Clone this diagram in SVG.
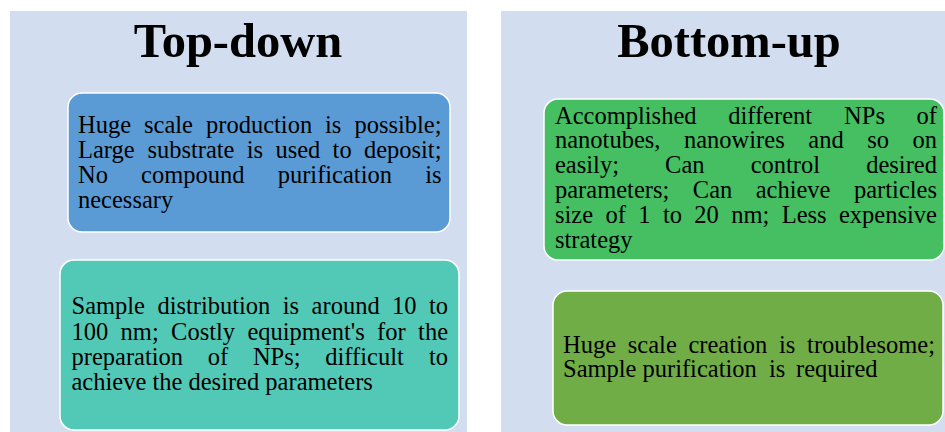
<svg xmlns="http://www.w3.org/2000/svg" width="945" height="432" viewBox="0 0 945 432">
  <style>
    .panel { fill: #D2DDEF; }
    .box { stroke: #FFFFFF; stroke-width: 1.5; }
    .title { font-family: "Liberation Serif", "Times New Roman", serif; font-weight: bold; font-size: 48.5px; fill: #000000; text-anchor: middle; }
    .body { font-family: "Liberation Serif", "Times New Roman", serif; font-size: 24.5px; fill: #000000; }
  </style>

  <rect width="945" height="432" fill="#FFFFFF"/>

  <!-- Top-down column; justified lines are set word by word -->
  <g id="top-down">
    <rect class="panel" x="10" y="11" width="457" height="425"/>
    <text class="title" x="238" y="57">Top-down</text>

    <g id="td-advantages">
      <rect class="box" x="68" y="93" width="382" height="139" rx="14" fill="#5B9BD5"/>
      <text class="body" y="133"><tspan x="78">Huge</tspan><tspan x="144">scale</tspan><tspan x="206">production</tspan><tspan x="325">is</tspan><tspan x="354.4">possible;</tspan></text>
      <text class="body" y="158"><tspan x="78">Large</tspan><tspan x="147.4">substrate</tspan><tspan x="246.8">is</tspan><tspan x="275.4">used</tspan><tspan x="332.6">to</tspan><tspan x="363.9">deposit;</tspan></text>
      <text class="body" y="183"><tspan x="78">No</tspan><tspan x="141.1">compound</tspan><tspan x="277.7">purification</tspan><tspan x="425.2">is</tspan></text>
      <text class="body" x="78" y="208">necessary</text>
    </g>

    <g id="td-disadvantages">
      <rect class="box" x="60" y="260" width="399" height="170" rx="14" fill="#52C9B7"/>
      <text class="body" y="314"><tspan x="71.5">Sample</tspan><tspan x="157.4">distribution</tspan><tspan x="282.8">is</tspan><tspan x="311.6">around</tspan><tspan x="392">10</tspan><tspan x="428.9">to</tspan></text>
      <text class="body" y="339.5"><tspan x="71.5">100</tspan><tspan x="120.6">nm;</tspan><tspan x="171.1">Costly</tspan><tspan x="247.4">equipment's</tspan><tspan x="377.1">for</tspan><tspan x="418.1">the</tspan></text>
      <text class="body" y="364.5"><tspan x="71.5">preparation</tspan><tspan x="207.8">of</tspan><tspan x="252.9">NPs;</tspan><tspan x="325.3">difficult</tspan><tspan x="428.9">to</tspan></text>
      <text class="body" x="71.5" y="389.5">achieve the desired parameters</text>
    </g>
  </g>

  <!-- Bottom-up column -->
  <g id="bottom-up">
    <rect class="panel" x="501" y="11" width="444" height="425"/>
    <text class="title" x="729" y="57">Bottom-up</text>

    <g id="bu-advantages">
      <rect class="box" x="544" y="99" width="400" height="161" rx="14" fill="#45BF62"/>
      <text class="body" y="123.5"><tspan x="555">Accomplished</tspan><tspan x="728.2">different</tspan><tspan x="844.1">NPs</tspan><tspan x="916.6">of</tspan></text>
      <text class="body" y="148.3"><tspan x="555">nanotubes,</tspan><tspan x="684">nanowires</tspan><tspan x="808.3">and</tspan><tspan x="867.2">so</tspan><tspan x="912.5">on</tspan></text>
      <text class="body" y="173.1"><tspan x="555">easily;</tspan><tspan x="665.1">Can</tspan><tspan x="750.7">control</tspan><tspan x="866.2">desired</tspan></text>
      <text class="body" y="197.9"><tspan x="555">parameters;</tspan><tspan x="692.8">Can</tspan><tspan x="755.7">achieve</tspan><tspan x="854">particles</tspan></text>
      <text class="body" y="222.7"><tspan x="555">size</tspan><tspan x="605.5">of</tspan><tspan x="638.3">1</tspan><tspan x="662.9">to</tspan><tspan x="694.3">20</tspan><tspan x="731.2">nm;</tspan><tspan x="781.7">Less</tspan><tspan x="839">expensive</tspan></text>
      <text class="body" x="555" y="247.5">strategy</text>
    </g>

    <g id="bu-disadvantages">
      <rect class="box" x="553" y="291" width="390" height="134" rx="14" fill="#70AD47"/>
      <text class="body" y="352.5"><tspan x="563">Huge</tspan><tspan x="627.8">scale</tspan><tspan x="688.4">creation</tspan><tspan x="779">is</tspan><tspan x="807.1">troublesome;</tspan></text>
      <text class="body" y="377"><tspan x="563">Sample</tspan><tspan x="642.5">purification</tspan><tspan x="769">is</tspan><tspan x="796">required</tspan></text>
    </g>
  </g>
</svg>
